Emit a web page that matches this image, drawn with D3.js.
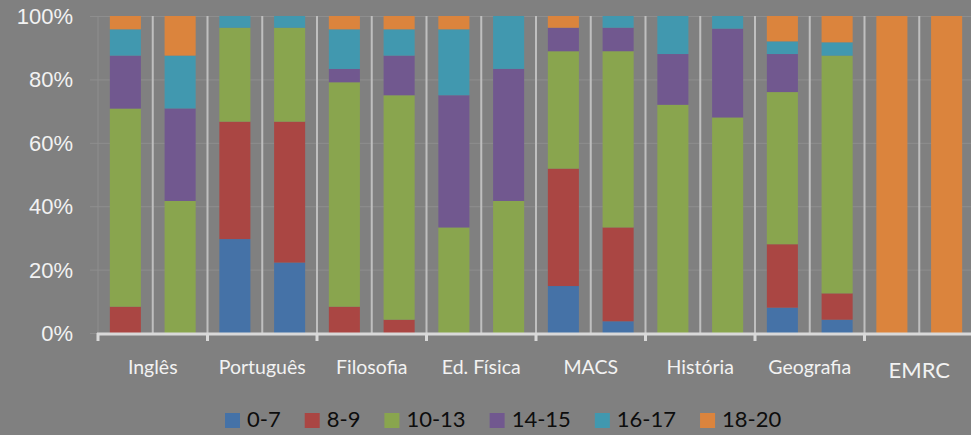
<!DOCTYPE html>
<html>
<head>
<meta charset="utf-8">
<script src="https://cdn.jsdelivr.net/npm/d3@7"></script>
<style>
  body { margin: 0; background: #808080; }
  svg { display: block; font-family: Lato, "Open Sans", sans-serif; }
</style>
</head>
<body>
<div id="chart"></div>
<script>
var categories = ["Inglês", "Português", "Filosofia", "Ed. Física", "MACS", "História", "Geografia", "EMRC"];
var bars = ["1", "2"];
var seriesNames = ["0-7", "8-9", "10-13", "14-15", "16-17", "18-20"];
var colors = ["#4572A7", "#AA4643", "#89A54E", "#71588F", "#4198AF", "#DB843D"];

// two bars per subject, in category order
var s0_7   = [0, 0, 29.6, 22.2, 0, 0, 0, 0, 14.8, 3.7, 0, 0, 8, 4.2, 0, 0];
var s8_9   = [8.3, 0, 37.0, 44.4, 8.3, 4.2, 0, 0, 37.0, 29.6, 0, 0, 20, 8.3, 0, 0];
var s10_13 = [62.5, 41.7, 29.6, 29.6, 70.8, 70.8, 33.3, 41.7, 37.0, 55.6, 72, 68, 48, 75, 0, 0];
var s14_15 = [16.7, 29.2, 0, 0, 4.2, 12.5, 41.7, 41.7, 7.4, 7.4, 16, 28, 12, 0, 0, 0];
var s16_17 = [8.3, 16.7, 3.7, 3.7, 12.5, 8.3, 20.8, 16.7, 0, 3.7, 12, 4, 4, 4.2, 0, 0];
var s18_20 = [4.2, 12.5, 0, 0, 4.2, 4.2, 4.2, 0, 3.7, 0, 0, 0, 8, 8.3, 100, 100];
var yTicks = [0, 0.2, 0.4, 0.6, 0.8, 1];

var seriesValues = [s0_7, s8_9, s10_13, s14_15, s16_17, s18_20];

var width = 971, height = 435;
var margin = {top: 16, left: 98, right: -3, bottom: 102};
var plotW = width - margin.left - margin.right,
    plotH = height - margin.top - margin.bottom;

var rows = [];
categories.forEach(function(c, ci) {
  bars.forEach(function(b, bi) {
    var r = {cat: c, bar: b};
    seriesNames.forEach(function(s, si) { r[s] = seriesValues[si][ci * 2 + bi]; });
    rows.push(r);
  });
});

var stack = d3.stack().keys(seriesNames).offset(d3.stackOffsetExpand);
var layers = stack(rows);

var x0 = d3.scaleBand().domain(categories).range([0, plotW]);
var x1 = d3.scaleBand().domain(bars).range([0, x0.bandwidth()]).paddingInner(0.433).paddingOuter(0.2165);
var y = d3.scaleLinear().domain([0, 1]).range([plotH, 0]);
var color = d3.scaleOrdinal().domain(seriesNames).range(colors);

var svg = d3.select("#chart").append("svg")
    .attr("width", width)
    .attr("height", height);

svg.append("rect").attr("width", width).attr("height", height).attr("fill", "#808080");

var g = svg.append("g")
    .attr("transform", "translate(" + margin.left + "," + margin.top + ")");

// horizontal gridlines + y labels
var yAxis = g.append("g")
    .call(d3.axisLeft(y).tickValues(yTicks).tickSize(-plotW - 8).tickPadding(17).tickFormat(d3.format(".0%")))
    .attr("transform", "translate(-8,0)");
yAxis.select(".domain").remove();
yAxis.selectAll(".tick line").attr("x1", 0).attr("x2", plotW + 8).attr("stroke", "#8e8e8e").attr("stroke-width", 1);
yAxis.selectAll(".tick text").attr("fill", "#f2f2f2").style("font-size", "22px").attr("dy", "0.34em");

g.append("line")
    .attr("x1", 0).attr("x2", 0).attr("y1", 0).attr("y2", plotH)
    .attr("stroke", "#8e8e8e");

// light separators between bar slots
var slotEdges = [];
categories.forEach(function(c) {
  slotEdges.push(x0(c) + x1.step() * 1);
  slotEdges.push(x0(c) + x0.bandwidth());
});
g.selectAll(".sep").data(slotEdges).enter().append("line")
    .attr("class", "sep")
    .attr("x1", function(d) { return d; }).attr("x2", function(d) { return d; })
    .attr("y1", 0).attr("y2", plotH)
    .attr("stroke", "#bfbfbf").attr("stroke-width", 2);

// stacked bars
g.selectAll(".layer").data(layers).enter().append("g")
    .attr("class", "layer")
    .attr("fill", function(d) { return color(d.key); })
  .selectAll("rect").data(function(d) { return d; }).enter().append("rect")
    .attr("x", function(d) { return x0(d.data.cat) + x1(d.data.bar); })
    .attr("width", x1.bandwidth())
    .attr("y", function(d) { return y(d[1]); })
    .attr("height", function(d) { return y(d[0]) - y(d[1]); });

// category axis
var xAxis = g.append("g")
    .attr("transform", "translate(0," + plotH + ")");
xAxis.append("line")
    .attr("x1", -1).attr("x2", plotW)
    .attr("y1", 1).attr("y2", 1)
    .attr("stroke", "#d9d9d9").attr("stroke-width", 3);
var catEdges = categories.map(function(c) { return x0(c); }).concat([plotW]);
xAxis.selectAll(".tk").data(catEdges).enter().append("line")
    .attr("class", "tk")
    .attr("x1", function(d) { return d; }).attr("x2", function(d) { return d; })
    .attr("y1", 0).attr("y2", 8)
    .attr("stroke", "#d9d9d9").attr("stroke-width", 3);
xAxis.selectAll(".lbl").data(categories).enter().append("text")
    .attr("class", "lbl")
    .attr("x", function(d) { return x0(d) + x0.bandwidth() / 2; })
    .attr("y", function(d) { return d === "EMRC" ? 45 : 41; })
    .attr("text-anchor", "middle")
    .attr("fill", "#f2f2f2")
    .style("font-size", function(d) { return d === "EMRC" ? "22px" : "19.5px"; })
    .text(function(d) { return d; });

// legend
var legend = svg.append("g").attr("transform", "translate(225,427)");
var lx = 0;
seriesNames.forEach(function(s) {
  legend.append("rect").attr("x", lx).attr("y", -14).attr("width", 15).attr("height", 15).attr("fill", color(s));
  var t = legend.append("text").attr("x", lx + 22).attr("y", 0)
      .attr("fill", "#0d0d0d").style("font-size", "22px").text(s);
  lx += 22 + t.node().getComputedTextLength() + 24;
});
</script>
</body>
</html>
